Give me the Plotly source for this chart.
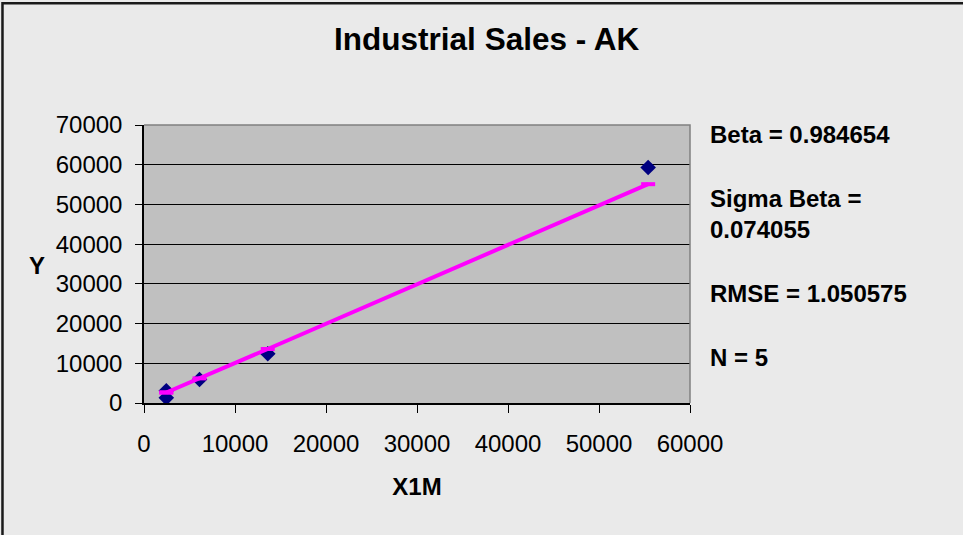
import plotly.graph_objects as go

x1m = [2450, 2450, 6100, 13600, 55400]
y_obs = [1300, 3100, 5900, 12400, 59300]
y_fit = [2650, 2650, 6200, 13600, 55100]

stats = ["Beta = 0.984654", "Sigma Beta =<br>0.074055", "RMSE = 1.050575", "N = 5"]
xticks = [0, 10000, 20000, 30000, 40000, 50000, 60000]
yticks = [0, 10000, 20000, 30000, 40000, 50000, 60000, 70000]

font = "Liberation Sans, Arial, sans-serif"

fig = go.Figure()
fig.add_trace(go.Scatter(x=x1m, y=y_obs, mode="markers",
                         marker=dict(symbol="diamond", size=12, color="#000080"),
                         showlegend=False))
fig.add_trace(go.Scatter(x=x1m, y=y_fit, mode="lines+markers",
                         line=dict(color="#FF00FF", width=4),
                         marker=dict(symbol="line-ew", size=10,
                                     line=dict(color="#FF00FF", width=4)),
                         showlegend=False))

# stats text on the right
stat_y = [0.966, 0.68, 0.393, 0.163]
for txt, yy in zip(stats, stat_y):
    fig.add_annotation(text="<b>%s</b>" % txt, xref="paper", yref="paper",
                       x=1.033, y=yy, xanchor="left", yanchor="middle",
                       align="left", showarrow=False,
                       font=dict(family=font, size=24, color="black"))

# horizontal "Y" axis title, like the excel chart
fig.add_annotation(text="<b>Y</b>", xref="paper", yref="paper",
                   x=-0.196, y=0.496, xanchor="center", yanchor="middle",
                   showarrow=False, font=dict(family=font, size=24, color="black"))

# outer frame (left + top edges show) and top/right border of plot area
fig.add_shape(type="path", xref="paper", yref="paper",
              path="M -0.2592,-1 L -0.2592,1.438 L 2,1.438",
              line=dict(color="#1a1a1a", width=2.5))
fig.add_shape(type="path", xref="paper", yref="paper",
              path="M 0,1 L 1,1 L 1,0", line=dict(color="#808080", width=1.5))

fig.update_layout(
    width=963, height=535,
    margin=dict(l=144, r=273, t=125, b=132),
    paper_bgcolor="#EAEAEA", plot_bgcolor="#C0C0C0",
    font=dict(family=font, size=24, color="black"),
    title=dict(text="<b>Industrial Sales - AK</b>", x=0.5054, y=0.927,
               xanchor="center", yanchor="middle",
               font=dict(family=font, size=31.5, color="black")),
    xaxis=dict(range=[0, 60000], tickvals=xticks, ticktext=[str(v) for v in xticks],
               ticks="outside", ticklen=8,
               tickcolor="black", showgrid=False, zeroline=False,
               showline=True, linecolor="black", linewidth=1.5,
               ticklabelstandoff=10,
               title=dict(text="<b>X1M</b>", standoff=23,
                          font=dict(family=font, size=24))),
    yaxis=dict(range=[0, 70000], tickvals=yticks, ticktext=[str(v) for v in yticks],
               ticks="outside", ticklen=7,
               tickcolor="black", showgrid=True, gridcolor="black", gridwidth=1,
               zeroline=False, showline=True, linecolor="black", linewidth=1.5,
               ticklabelstandoff=8),
)

# page has a default body margin; drop it so the chart fills the window
fig.write_html("out.html", config={"displayModeBar": False},
               post_script="document.body.style.margin='0';")
